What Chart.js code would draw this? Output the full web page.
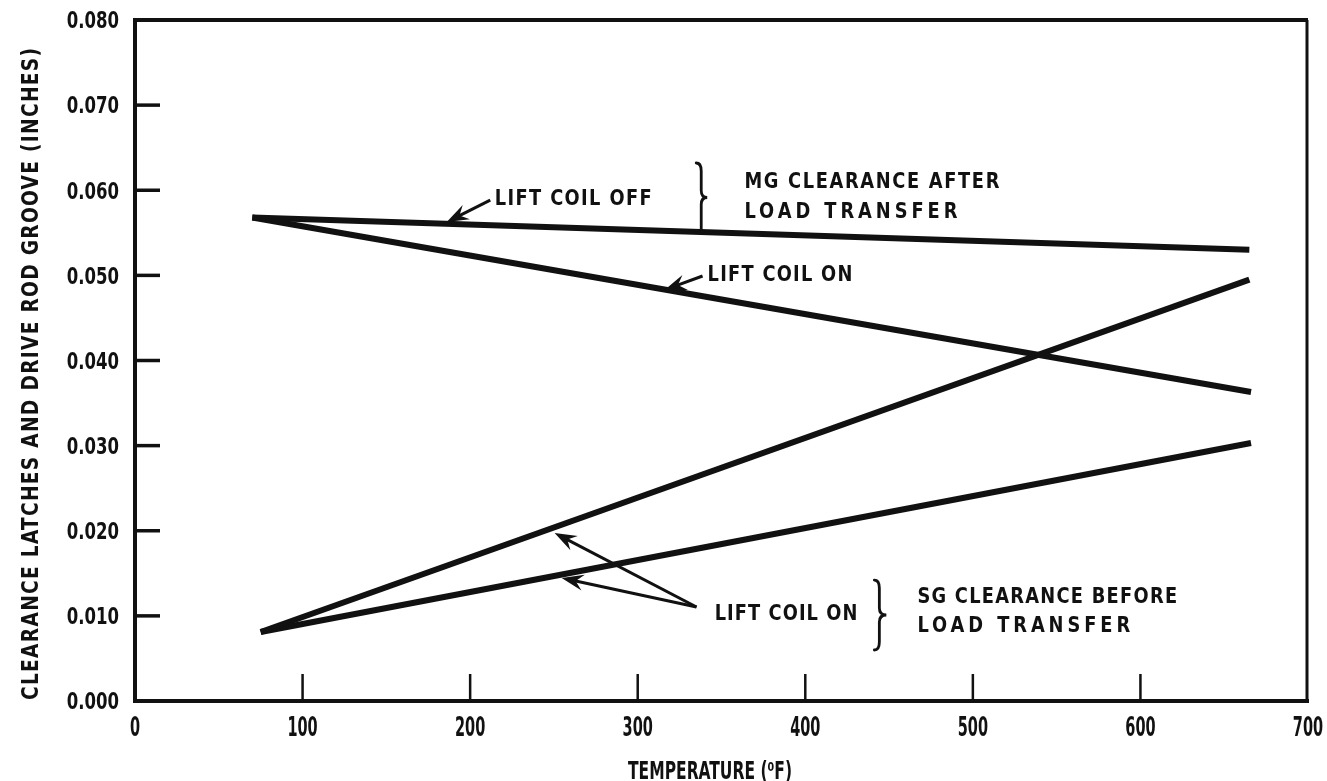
<!DOCTYPE html>
<html><head><meta charset="utf-8">
<script src="https://cdn.jsdelivr.net/npm/chart.js@4"></script>
<style>html,body{margin:0;padding:0;background:#fff}#wrap{width:1327px;height:781px}</style>
</head><body><div id="wrap"><canvas id="c" width="1327" height="781"></canvas></div>
<script>
const FONT = '"DejaVu Sans Condensed","Liberation Sans",sans-serif';

// Tick values
const xTickValues = [0, 100, 200, 300, 400, 500, 600, 700];
const yTickValues = [0, 0.01, 0.02, 0.03, 0.04, 0.05, 0.06, 0.07, 0.08];

// Series (temperature °F -> clearance inches)
const mgOffX = [70, 665];
const mgOffY = [0.0568, 0.0530];
const mgOnX = [70, 666];
const mgOnY = [0.0568, 0.0363];
const sgSteepX = [75, 665];
const sgSteepY = [0.0081, 0.0495];
const sgShallowX = [75, 666];
const sgShallowY = [0.0081, 0.0303];

// Annotation texts
const xTitle = 'TEMPERATURE (\u2070F)';
const yTitle = 'CLEARANCE LATCHES AND DRIVE ROD GROOVE (INCHES)';

const toPts = (xs, ys) => xs.map((x, i) => ({x, y: ys[i]}));
const lineDs = (label, xs, ys) => ({
  label, data: toPts(xs, ys), borderColor: '#111', borderWidth: 6,
  pointRadius: 0, fill: false, tension: 0, borderCapStyle: 'butt', borderJoinStyle: 'miter'
});

// draws uppercase text so it spans x1..x2: narrows if too wide, letter-spaces if too narrow
function capText(ctx, text, x1, x2, yc, size) {
  ctx.save();
  ctx.font = 'bold ' + size + 'px ' + FONT;
  ctx.fillStyle = '#111';
  ctx.letterSpacing = '0px';
  const base = 0.9;
  const w = ctx.measureText(text).width * base;
  const target = x2 - x1;
  let s = base, ls = 0;
  if (w > target) { s = base * target / w; }
  else { ls = (target - w) / (text.length - 1) / base; }
  ctx.letterSpacing = ls.toFixed(2) + 'px';
  ctx.translate(x1, yc + size * 0.36);
  ctx.scale(s, 1);
  ctx.textAlign = 'left';
  ctx.textBaseline = 'alphabetic';
  ctx.fillText(text, 0, 0);
  ctx.restore();
}
function tickText(ctx, text, x, yc, size, hs, align) {
  ctx.save();
  ctx.font = 'bold ' + size + 'px ' + FONT;
  ctx.fillStyle = '#111';
  ctx.translate(x, yc + size * 0.36);
  ctx.scale(hs, 1);
  ctx.textAlign = align;
  ctx.textBaseline = 'alphabetic';
  ctx.fillText(text, 0, 0);
  ctx.restore();
}
function arrow(ctx, x1, y1, x2, y2) {
  const a = Math.atan2(y2 - y1, x2 - x1);
  const L = 22, W = 8;
  ctx.save();
  ctx.strokeStyle = '#111'; ctx.fillStyle = '#111'; ctx.lineWidth = 3;
  ctx.beginPath(); ctx.moveTo(x1, y1);
  ctx.lineTo(x2 - L * 0.6 * Math.cos(a), y2 - L * 0.6 * Math.sin(a)); ctx.stroke();
  ctx.translate(x2, y2); ctx.rotate(a);
  ctx.beginPath(); ctx.moveTo(0, 0); ctx.lineTo(-L, -W); ctx.lineTo(-L * 0.65, 0); ctx.lineTo(-L, W);
  ctx.closePath(); ctx.fill();
  ctx.restore();
}
function brace(ctx, x, yTop, yBot, depth, bottomHook) {
  const ym = (yTop + yBot) / 2;
  ctx.save();
  ctx.strokeStyle = '#111'; ctx.lineWidth = 2.8; ctx.lineCap = 'round';
  ctx.beginPath();
  ctx.moveTo(x - 5, yTop);
  ctx.quadraticCurveTo(x, yTop, x, yTop + 8);
  ctx.lineTo(x, ym - 7);
  ctx.quadraticCurveTo(x, ym, x + depth, ym);
  ctx.quadraticCurveTo(x, ym, x, ym + 7);
  if (bottomHook) {
    ctx.lineTo(x, yBot - 8);
    ctx.quadraticCurveTo(x, yBot, x - 5, yBot);
  } else {
    ctx.lineTo(x, yBot);
  }
  ctx.stroke();
  ctx.restore();
}

const decor = {
  id: 'decor',
  afterDraw(chart) {
    const ctx = chart.ctx, ca = chart.chartArea;
    const xs = chart.scales.x, ys = chart.scales.y;
    const X = v => xs.getPixelForValue(v), Y = v => ys.getPixelForValue(v);
    ctx.save();
    ctx.strokeStyle = '#111';
    // top and right frame
    ctx.lineWidth = 4;
    ctx.beginPath(); ctx.moveTo(ca.left - 2, ca.top); ctx.lineTo(ca.right, ca.top); ctx.stroke();
    ctx.lineWidth = 3;
    ctx.beginPath(); ctx.moveTo(ca.right - 1, ca.top); ctx.lineTo(ca.right - 1, ca.bottom + 1); ctx.stroke();
    // inward ticks
    ctx.lineWidth = 3.5;
    yTickValues.slice(1, -1).forEach(v => {
      const y = Y(v);
      ctx.beginPath(); ctx.moveTo(ca.left, y); ctx.lineTo(ca.left + 25, y); ctx.stroke();
    });
    ctx.lineWidth = 2.5;
    xTickValues.slice(1, -1).forEach(v => {
      const x = X(v);
      ctx.beginPath(); ctx.moveTo(x, ca.bottom); ctx.lineTo(x, ca.bottom - 27); ctx.stroke();
    });
    ctx.restore();

    // tick labels (narrow, from the scales' ticks)
    ys.ticks.forEach(t => tickText(ctx, t.value.toFixed(3), ca.left - 16, Y(t.value), 23, 0.8, 'right'));
    xs.ticks.forEach(t => tickText(ctx, String(t.value), X(t.value), ca.bottom + 26, 26, 0.62, 'center'));

    // annotations (positions in data units)
    capText(ctx, 'LIFT COIL OFF', X(214.7), X(308.3), Y(0.0592), 22);
    arrow(ctx, X(212), Y(0.05885), X(186), Y(0.05627));
    brace(ctx, X(337.9), Y(0.0632), Y(0.0551), 6, false);
    capText(ctx, 'MG CLEARANCE AFTER', X(363.7), X(515.8), Y(0.0612), 22);
    capText(ctx, 'LOAD TRANSFER', X(363.7), X(490.8), Y(0.0577), 22);
    capText(ctx, 'LIFT COIL ON', X(341.7), X(428.1), Y(0.0503), 22);
    arrow(ctx, X(338.7), Y(0.04993), X(316), Y(0.04828));

    capText(ctx, 'LIFT COIL ON', X(345.9), X(431.1), Y(0.01046), 22);
    arrow(ctx, X(335.1), Y(0.01104), X(250.4), Y(0.01974));
    arrow(ctx, X(335.1), Y(0.01104), X(254.6), Y(0.01445));
    brace(ctx, X(444.2), Y(0.01421), Y(0.00599), 7, true);
    capText(ctx, 'SG CLEARANCE BEFORE', X(466.9), X(621.9), Y(0.01245), 22);
    capText(ctx, 'LOAD TRANSFER', X(466.9), X(593.9), Y(0.00905), 22);

    // axis titles
    capText(ctx, xTitle, 628, 792, 770, 24);
    ctx.save();
    ctx.translate(30, 374);
    ctx.rotate(-Math.PI / 2);
    capText(ctx, yTitle, -326, 326, 0, 23);
    ctx.restore();
  }
};

const noPad = s => { s.paddingLeft = 0; s.paddingRight = 0; s.paddingTop = 0; s.paddingBottom = 0; };

new Chart(document.getElementById('c'), {
  type: 'line',
  data: {
    datasets: [
      lineDs('Lift coil off (MG after load transfer)', mgOffX, mgOffY),
      lineDs('Lift coil on (MG after load transfer)', mgOnX, mgOnY),
      lineDs('Lift coil on (SG before load transfer) A', sgSteepX, sgSteepY),
      lineDs('Lift coil on (SG before load transfer) B', sgShallowX, sgShallowY)
    ]
  },
  options: {
    responsive: false,
    devicePixelRatio: 1,
    animation: false,
    layout: {padding: {top: 20, right: 19, left: 0, bottom: 0}},
    plugins: {legend: {display: false}, tooltip: {enabled: false}},
    scales: {
      x: {
        type: 'linear', min: 0, max: 700,
        afterBuildTicks: s => { s.ticks = xTickValues.map(v => ({value: v})); },
        afterFit: s => { s.height = 80; noPad(s); },
        grid: {display: false, drawTicks: false},
        border: {display: true, color: '#111', width: 4},
        ticks: {display: false}
      },
      y: {
        type: 'linear', min: 0, max: 0.08,
        afterBuildTicks: s => { s.ticks = yTickValues.map(v => ({value: v})); },
        afterFit: s => { s.width = 135; noPad(s); },
        grid: {display: false, drawTicks: false},
        border: {display: true, color: '#111', width: 4},
        ticks: {display: false}
      }
    }
  },
  plugins: [decor]
});
</script>
</body></html>
